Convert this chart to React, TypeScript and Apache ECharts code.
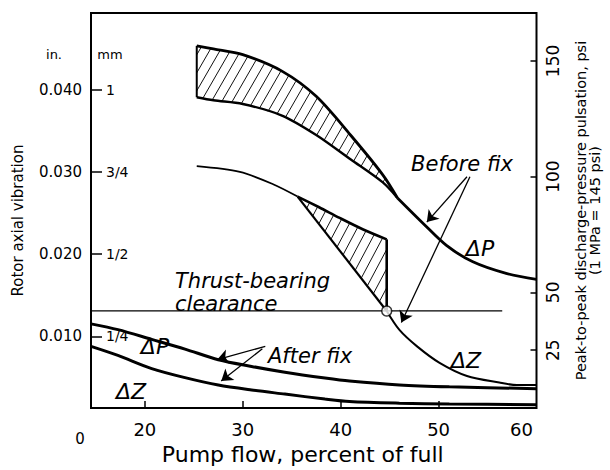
import React, { useEffect, useRef } from 'react';
import * as echarts from 'echarts';

// ---- axes ----
const flowTicks = [20, 30, 40, 50, 60];
const inchTicks = [0.01, 0.02, 0.03, 0.04];
const mmTicks = [0.01, 0.02, 0.03, 0.04];
const mmLabels = ['1/4', '1/2', '3/4', '1'];
const psiTicks = [25, 50, 100, 150];

// ---- Before fix: ΔP scatter band (psi) ----
const bandFlow = [25.3, 27, 30, 34, 37.5, 41, 44.3, 45.8];
const bandUpperPsi = [156.5, 155.2, 152.7, 145.6, 134.7, 118.0, 100.8, 90.8];
const bandLowerPsi = [134.3, 133.0, 131.4, 126.4, 118.0, 107.5, 97.5, 90.8];
// Before fix: ΔP beyond the band (psi)
const dpBeforeFlow = [45.8, 48.4, 50.8, 53.5, 56.9, 60];
const dpBeforePsi = [90.8, 79.9, 70.3, 63.2, 58.2, 55.6];

// ---- Before fix: ΔZ (in.) ----
const dzBeforeFlow = [25.3, 29.7, 33.1, 35.6];
const dzBeforeIn = [0.0307, 0.03, 0.0285, 0.027];
const dzBandFlow = [35.6, 37.8, 39.9, 42.3, 44.7];
const dzBandUpperIn = [0.027, 0.0257, 0.0244, 0.023, 0.0218];
const dzJumpFlow = [44.7, 46.0, 47.8, 50.1, 52.9, 56.2, 58.0, 60];
const dzJumpIn = [0.0131, 0.0108, 0.0088, 0.0068, 0.0052, 0.0044, 0.0041, 0.0041];

// ---- After fix ----
const afterFlow = [14.5, 17.25, 20.7, 24.1, 27.5, 30.9, 34.3, 38.4, 40.9, 46.0, 51.1, 60];
const dpAfterPsi = [36.4, 33.9, 29.7, 25.5, 20.9, 18.0, 15.5, 13.0, 11.7, 10.0, 9.2, 8.4];
const dzAfterIn = [0.0088, 0.0077, 0.0061, 0.005, 0.0041, 0.0035, 0.003, 0.0024, 0.0021, 0.0019, 0.0018, 0.0017];

// ---- Thrust-bearing clearance ----
const clearanceIn = 0.0131;
const clearanceFlow = [14.5, 56.5];
const crossingFlow = 44.7;

// ---- annotation arrows (flow, in.) ----
const arrowStartFlow = [52.9, 53.2, 32.3, 32.0];
const arrowStartIn = [0.0294, 0.0294, 0.0088, 0.0085];
const arrowEndFlow = [48.8, 46.2, 27.4, 27.8];
const arrowEndIn = [0.0239, 0.0117, 0.0072, 0.0046];
const arrowBend = [0, 0.06, 0, 0];

const FONT = 'DejaVu Sans';

function hatchSegments(poly: number[][], spacing: number, angleDeg: number) {
  const a = (angleDeg * Math.PI) / 180;
  const d = [Math.cos(a), -Math.sin(a)];
  const n = [Math.sin(a), Math.cos(a)];
  const s = poly.map((p) => p[0] * n[0] + p[1] * n[1]);
  const smin = Math.min(...s);
  const smax = Math.max(...s);
  const segs: number[][][] = [];
  for (let k = smin + spacing / 2; k < smax; k += spacing) {
    const pts: number[][] = [];
    for (let i = 0; i < poly.length; i++) {
      const j = (i + 1) % poly.length;
      const s1 = s[i];
      const s2 = s[j];
      if ((s1 <= k && s2 > k) || (s2 <= k && s1 > k)) {
        const t = (k - s1) / (s2 - s1);
        const x = poly[i][0] + t * (poly[j][0] - poly[i][0]);
        const y = poly[i][1] + t * (poly[j][1] - poly[i][1]);
        pts.push([x, y, x * d[0] + y * d[1]]);
      }
    }
    pts.sort((p, q) => p[2] - q[2]);
    for (let m = 0; m + 1 < pts.length; m += 2) segs.push([pts[m], pts[m + 1]]);
  }
  return segs;
}

function hatchLines(segs: number[][][]) {
  return segs.map((sg) => ({
    type: 'line',
    shape: { x1: sg[0][0], y1: sg[0][1], x2: sg[1][0], y2: sg[1][1] },
    style: { stroke: '#111', lineWidth: 1 },
  }));
}

export default function App() {
  const ref = useRef<HTMLDivElement>(null);
  useEffect(() => {
    if (!ref.current) return;
    const chart = echarts.init(ref.current, null, { renderer: 'svg' });

    const txt = (text: string, x: number, y: number, size: number, italic: boolean, align = 'center') => ({
      type: 'text',
      x,
      y,
      style: {
        text,
        fontSize: size,
        fontFamily: FONT,
        fontStyle: italic ? 'italic' : 'normal',
        fill: '#000',
        textAlign: align,
        textVerticalAlign: 'middle',
        verticalAlign: 'middle',
      },
    });

    const option: any = {
      animation: false,
      backgroundColor: '#fff',
      grid: { left: 91, right: 73, top: 13, bottom: 49, show: true, borderColor: '#000', borderWidth: 2 },
      xAxis: {
        type: 'value',
        min: 14.5,
        max: 60,
        axisLine: { show: false },
        splitLine: { show: false },
        axisTick: { show: true, inside: true, length: 7, lineStyle: { color: '#000', width: 1.5 }, customValues: [20, 30, 40, 50] },
        axisLabel: {
          customValues: flowTicks,
          color: '#000',
          fontSize: 18,
          fontFamily: FONT,
          margin: 12,
          formatter: (v: number) => (v === 60 ? '{r|60}' : String(v)),
          rich: { r: { fontSize: 18, fontFamily: FONT, color: '#000', padding: [0, 30, 0, 0] } },
        },
        name: 'Pump flow, percent of full',
        nameLocation: 'middle',
        nameGap: 33,
        nameTextStyle: { fontSize: 22, fontFamily: FONT, color: '#000', padding: [0, 22, 0, 0] },
      },
      yAxis: [
        {
          type: 'value',
          position: 'left',
          min: 0.0013,
          max: 0.0493,
          axisLine: { show: false },
          splitLine: { show: false },
          axisTick: { show: false },
          axisLabel: {
            customValues: inchTicks,
            color: '#000',
            fontSize: 15,
            fontFamily: FONT,
            margin: 9,
            formatter: (v: number) => v.toFixed(3),
          },
          name: 'Rotor axial vibration',
          nameLocation: 'middle',
          nameRotate: 90,
          nameGap: 66,
          nameTextStyle: { fontSize: 15, fontFamily: FONT, color: '#000', padding: [0, 20, 0, 0] },
        },
        {
          type: 'value',
          position: 'left',
          min: 0.0013,
          max: 0.0493,
          axisLine: { show: false },
          splitLine: { show: false },
          axisTick: { show: true, inside: true, length: 11, lineStyle: { color: '#000', width: 1.5 }, customValues: mmTicks },
          axisLabel: {
            inside: true,
            customValues: mmTicks,
            color: '#000',
            fontSize: 14,
            fontFamily: FONT,
            margin: 15,
            formatter: (v: number) => mmLabels[mmTicks.findIndex((t) => Math.abs(t - v) < 1e-9)] ?? '',
          },
        },
        {
          type: 'value',
          position: 'right',
          min: 0,
          max: 170.7,
          axisLine: { show: false },
          splitLine: { show: false },
          axisTick: { show: true, inside: true, length: 6, lineStyle: { color: '#000', width: 1.5 }, customValues: psiTicks },
          axisLabel: {
            customValues: psiTicks,
            rotate: 90,
            color: '#000',
            fontSize: 17,
            fontFamily: FONT,
            margin: 8,
          },
          name: 'Peak-to-peak discharge-pressure pulsation, psi\n(1 MPa = 145 psi)',
          nameLocation: 'middle',
          nameRotate: 90,
          nameGap: 37,
          nameTextStyle: { fontSize: 14.5, lineHeight: 14, fontFamily: FONT, color: '#000', align: 'center' },
        },
      ],
      series: [
        {
          type: 'custom',
          yAxisIndex: 2,
          silent: true,
          z: 3,
          data: [[bandFlow[0], bandUpperPsi[0]]],
          encode: { x: 0, y: 1 },
          renderItem: (_p: any, api: any) => {
            const up = bandFlow.map((x, i) => api.coord([x, bandUpperPsi[i]]));
            const lo = bandFlow.map((x, i) => api.coord([x, bandLowerPsi[i]]));
            const poly = [...up, ...lo.slice().reverse()];
            return {
              type: 'group',
              children: [
                ...hatchLines(hatchSegments(poly, 9, 60)),
                { type: 'polyline', shape: { points: up, smooth: 0.3 }, style: { stroke: '#000', lineWidth: 2.8, fill: 'none' } },
                { type: 'polyline', shape: { points: lo, smooth: 0.3 }, style: { stroke: '#000', lineWidth: 2.4, fill: 'none' } },
                { type: 'line', shape: { x1: up[0][0], y1: up[0][1], x2: lo[0][0], y2: lo[0][1] }, style: { stroke: '#000', lineWidth: 2 } },
              ],
            };
          },
        },
        {
          type: 'line',
          yAxisIndex: 2,
          silent: true,
          symbol: 'none',
          smooth: 0.3,
          lineStyle: { color: '#000', width: 2.8 },
          data: dpBeforeFlow.map((x, i) => [x, dpBeforePsi[i]]),
        },
        {
          type: 'line',
          yAxisIndex: 0,
          silent: true,
          symbol: 'none',
          smooth: 0.3,
          lineStyle: { color: '#000', width: 1.8 },
          data: dzBeforeFlow.map((x, i) => [x, dzBeforeIn[i]]),
        },
        {
          type: 'custom',
          yAxisIndex: 0,
          silent: true,
          z: 3,
          data: [[dzBandFlow[0], dzBandUpperIn[0]]],
          encode: { x: 0, y: 1 },
          renderItem: (_p: any, api: any) => {
            const up = dzBandFlow.map((x, i) => api.coord([x, dzBandUpperIn[i]]));
            const last = dzBandFlow[dzBandFlow.length - 1];
            const bottom = api.coord([last, clearanceIn]);
            const poly = [...up, bottom];
            return {
              type: 'group',
              children: [
                ...hatchLines(hatchSegments(poly, 9, 62)),
                { type: 'polyline', shape: { points: up, smooth: 0.3 }, style: { stroke: '#000', lineWidth: 2.6, fill: 'none' } },
                { type: 'line', shape: { x1: up[up.length - 1][0], y1: up[up.length - 1][1], x2: bottom[0], y2: bottom[1] }, style: { stroke: '#000', lineWidth: 2.6 } },
                { type: 'line', shape: { x1: up[0][0], y1: up[0][1], x2: bottom[0], y2: bottom[1] }, style: { stroke: '#000', lineWidth: 2.2 } },
              ],
            };
          },
        },
        {
          type: 'line',
          yAxisIndex: 0,
          silent: true,
          symbol: 'none',
          smooth: 0.3,
          lineStyle: { color: '#000', width: 2 },
          data: dzJumpFlow.map((x, i) => [x, dzJumpIn[i]]),
        },
        {
          type: 'line',
          yAxisIndex: 2,
          silent: true,
          symbol: 'none',
          smooth: 0.3,
          lineStyle: { color: '#000', width: 3 },
          data: afterFlow.map((x, i) => [x, dpAfterPsi[i]]),
        },
        {
          type: 'line',
          yAxisIndex: 0,
          silent: true,
          symbol: 'none',
          smooth: 0.3,
          lineStyle: { color: '#000', width: 3 },
          data: afterFlow.map((x, i) => [x, dzAfterIn[i]]),
        },
        {
          type: 'line',
          yAxisIndex: 0,
          silent: true,
          symbol: 'none',
          lineStyle: { color: '#000', width: 1.3 },
          data: clearanceFlow.map((x) => [x, clearanceIn]),
          markLine: {
            silent: true,
            symbol: ['none', 'arrow'],
            symbolSize: 11,
            label: { show: false },
            emphasis: { disabled: true },
            lineStyle: { color: '#000', width: 1.3, type: 'solid' },
            data: arrowStartFlow.map((x, i) => [
              { coord: [x, arrowStartIn[i]], lineStyle: { curveness: arrowBend[i] } },
              { coord: [arrowEndFlow[i], arrowEndIn[i]], lineStyle: { curveness: arrowBend[i] } },
            ]),
          },
        },
        {
          type: 'scatter',
          yAxisIndex: 0,
          silent: true,
          z: 10,
          symbol: 'circle',
          symbolSize: 10,
          itemStyle: { color: '#fff', borderColor: '#000', borderWidth: 1.5 },
          data: [[crossingFlow, clearanceIn]],
        },
      ],
      graphic: [
        txt('in.', 54, 54, 13, false),
        txt('mm', 110, 54, 13, false),
        txt('0', 80, 439, 15, false),
        txt('Before fix', 462, 164, 21, true),
        txt('ΔP', 480, 248, 22, true),
        txt('ΔZ', 466, 360, 22, true),
        txt('Thrust-bearing', 175, 281, 21, true, 'left'),
        txt('clearance', 175, 304, 21, true, 'left'),
        txt('After fix', 268, 356, 21, true, 'left'),
        txt('ΔP', 155, 346, 22, true),
        txt('ΔZ', 131, 391, 22, true),
      ],
    };
    chart.setOption(option);
    return () => chart.dispose();
  }, []);
  return <div ref={ref} style={{ position: 'absolute', left: 0, top: 0, width: 610, height: 470 }} />;
}
